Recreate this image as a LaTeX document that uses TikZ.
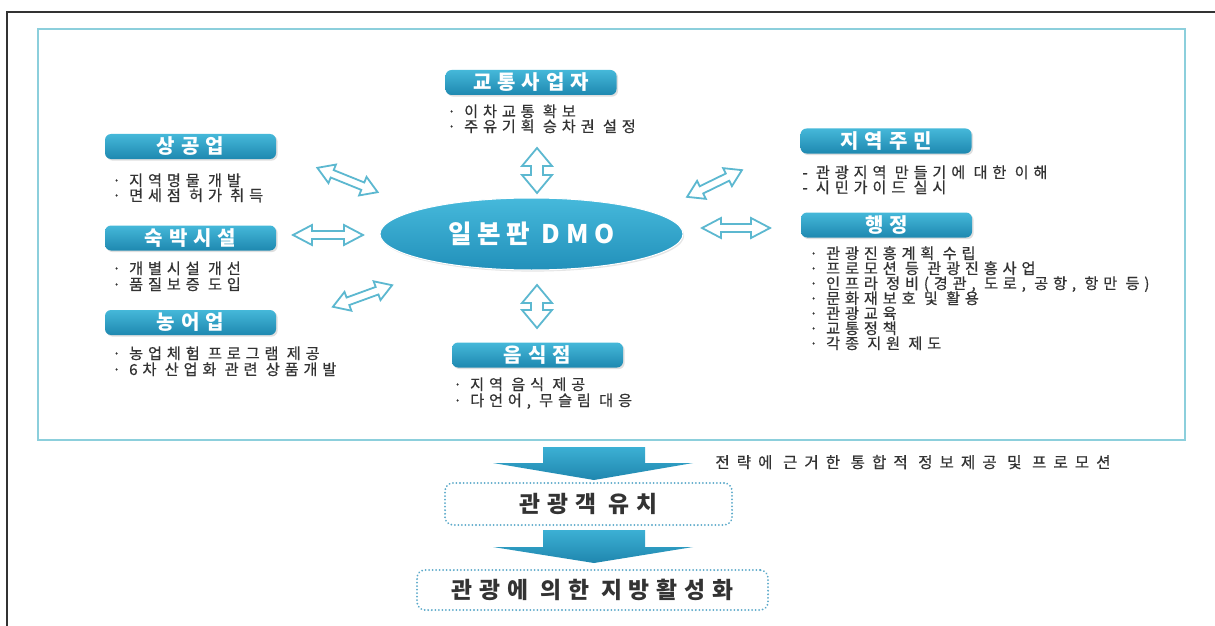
\documentclass[tikz,border=0pt]{standalone}
\usepackage{fontspec}
\setmainfont{Noto Sans CJK KR}
\newfontfamily\kr[LetterSpace=30]{Noto Sans CJK KR}
\newfontfamily\krb[LetterSpace=32,FakeBold=0.6]{Noto Sans CJK KR}
\newfontfamily\krw[LetterSpace=45,FakeBold=0.5]{Noto Sans CJK KR}
\newfontfamily\krn[LetterSpace=22]{Noto Sans CJK KR}
\usetikzlibrary{shadows,shapes.geometric}
\definecolor{boxtop}{HTML}{45B8D9}
\definecolor{boxbot}{HTML}{1E88B0}
\definecolor{arrowline}{HTML}{5CB8D0}
\definecolor{frameblue}{HTML}{8CCFDC}
\definecolor{txt}{HTML}{333333}
\definecolor{dotblue}{HTML}{5BA9C9}
\definecolor{arrtop}{HTML}{3CB0D4}
\definecolor{arrbot}{HTML}{1F86AE}
\definecolor{ellt}{HTML}{46B9DB}
\definecolor{ellb}{HTML}{2290BA}
\tikzset{
  titlebox/.style={rounded corners=3pt, top color=boxtop, bottom color=boxbot, draw=none,
    minimum width=85.5pt, minimum height=12.5pt, inner sep=0pt, text=white,
    font=\kr\fontsize{10}{11}\selectfont\bfseries,
    drop shadow={opacity=0.25, shadow xshift=0.8pt, shadow yshift=-0.8pt}},
  bul/.style={anchor=base west, inner sep=0pt, text=txt, font=\krb\fontsize{7.6}{8}\selectfont},
  dmo/.style={ellipse, minimum width=151.5pt, minimum height=36pt, top color=ellt, bottom color=ellb,
    draw=white, line width=0.5pt, text=white, font=\krn\fontsize{12.8}{14}\selectfont\bfseries,
    drop shadow={opacity=0.2, shadow xshift=0.6pt, shadow yshift=-0.8pt}},
  dotbox/.style={draw=dotblue, line width=1pt, dash pattern=on 0.01pt off 1.75pt, line cap=round,
    rounded corners=4pt, text=txt, font=\kr\fontsize{11.4}{13}\selectfont\bfseries},
  dblstyle/.style={draw=arrowline, line width=0.9pt, fill=white, line join=miter},
  pics/dbl/.style args={#1/#2/#3}{code={
    \pgfmathsetmacro\hL{#1/2}
    \pgfmathsetmacro\hh{#2}
    \pgfmathsetmacro\hw{#2*0.4}
    \pgfmathsetmacro\hk{#3}
    \draw[dblstyle] (-\hL,0) -- (-\hL+\hk,\hh) -- (-\hL+\hk,\hw) -- (\hL-\hk,\hw) -- (\hL-\hk,\hh)
      -- (\hL,0) -- (\hL-\hk,-\hh) -- (\hL-\hk,-\hw) -- (-\hL+\hk,-\hw) -- (-\hL+\hk,-\hh) -- cycle;
  }},
  bigarrow/.style={top color=arrtop, bottom color=arrbot, draw=none}
}
\begin{document}
\begin{tikzpicture}[x=0.5pt,y=-0.5pt]
\useasboundingbox (0,0) rectangle (1215,626);
\fill[white] (0,0) rectangle (1215,626);
% outer frame
\draw[line width=1pt, black!80] (7,626) -- (7,12) -- (1215,12);
% inner frame
\draw[frameblue, line width=0.9pt] (38,29) rectangle (1185,440);

% center
\node[dmo] (dmo) at (531.5,234) {일본판 DMO};

% 상공업
\node[titlebox] (sg) at (190.5,146.5) {상공업};
\node[bul] (sg1) at (112,186) {· 지역명물 개발};
\node[bul] (sg2) at (112,201) {· 면세점 허가 취득};

% 교통사업자
\node[titlebox] (kt) at (531,82.5) {교통사업자};
\node[bul] (kt1) at (447,117) {· 이차교통 확보};
\node[bul] (kt2) at (447,132) {· 주유기획 승차권 설정};

% 지역주민
\node[titlebox] (jm) at (886,141) {지역주민};
\node[bul] (jm1) at (802,178) {- 관광지역 만들기에 대한 이해};
\node[bul] (jm2) at (802,193) {- 시민가이드 실시};

% 행정
\node[titlebox] (hj) at (886.5,225) {행정};
\node[bul] (hj1) at (809,259) {· 관광진흥계획 수립};
\node[bul] (hj2) at (809,274) {· 프로모션 등 관광진흥사업};
\node[bul] (hj3) at (809,289) {· 인프라 정비(경관, 도로, 공항, 항만 등)};
\node[bul] (hj4) at (809,304) {· 문화재보호 및 활용};
\node[bul] (hj5) at (809,319) {· 관광교육};
\node[bul] (hj6) at (809,334) {· 교통정책};
\node[bul] (hj7) at (809,349) {· 각종 지원 제도};

% 숙박시설
\node[titlebox] (sb) at (190.5,238) {숙박시설};
\node[bul] (sb1) at (112,274) {· 개별시설 개선};
\node[bul] (sb2) at (112,290) {· 품질보증 도입};

% 농어업
\node[titlebox] (ne) at (190.5,322.5) {농어업};
\node[bul] (ne1) at (112,359) {· 농업체험 프로그램 제공};
\node[bul] (ne2) at (112,375) {· 6차 산업화 관련 상품개발};

% 음식점
\node[titlebox] (us) at (537.5,355) {음식점};
\node[bul] (us1) at (453,390) {· 지역 음식 제공};
\node[bul] (us2) at (453,406) {· 다언어, 무슬림 대응};

% double arrows
\pic[rotate=90] at (537,170.5) {dbl=45/15/18};
\pic[rotate=90] at (537,306.5) {dbl=43/15/18};
\pic at (328,235) {dbl=70/10/19};
\pic at (736,228) {dbl=68/10/19};
\pic[rotate=-22] at (347.5,180) {dbl=65/10/16};
\pic[rotate=20] at (362.5,296) {dbl=63/10/16};
\pic[rotate=26] at (714.5,183.5) {dbl=61/10/16};

% bottom flow
\shade[bigarrow] (543,447) -- (645,447) -- (645,463) -- (693,463) -- (594,480) -- (493,463) -- (543,463) -- cycle;
\node[bul, font=\krw\fontsize{7.8}{9}\selectfont] (lbl) at (715,468) {전략에 근거한 통합적 정보제공 및 프로모션};
\node[dotbox, minimum width=143.5pt, minimum height=21pt] (b1) at (588.5,504) {관광객 유치};
\shade[bigarrow] (543,530) -- (645,530) -- (645,547) -- (693,547) -- (594,563) -- (493,547) -- (543,547) -- cycle;
\node[dotbox, minimum width=175.5pt, minimum height=20pt] (b2) at (592.5,590) {관광에 의한 지방활성화};
\end{tikzpicture}
\end{document}
